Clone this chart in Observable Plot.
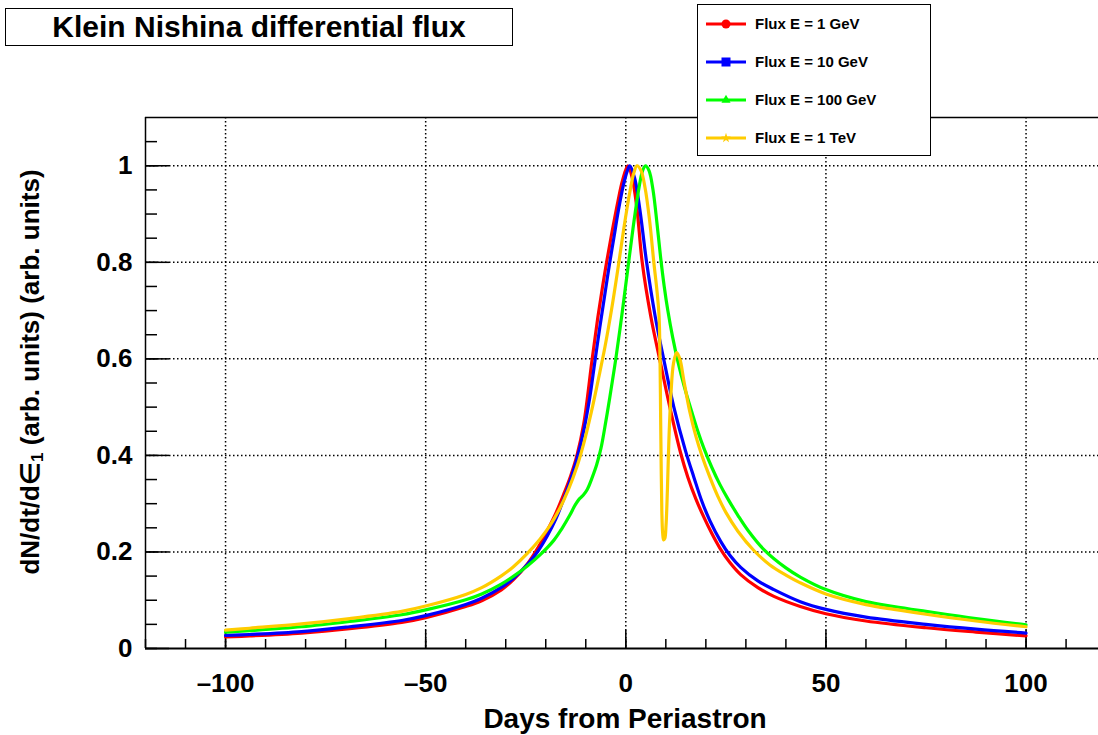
<!DOCTYPE html>
<html>
<head>
<meta charset="utf-8">
<script src="https://cdn.jsdelivr.net/npm/d3@7"></script>
<script src="https://cdn.jsdelivr.net/npm/@observablehq/plot@0.6"></script>
<style>
  html, body { margin: 0; padding: 0; background: #fff; overflow: hidden; }
  #wrap { position: relative; width: 1098px; height: 735px; font-family: "Liberation Sans", Arial, Helvetica, sans-serif; font-weight: bold; color: #000; }
  #chart { position: absolute; left: 0; top: 0; }
  #title { position: absolute; left: 5px; top: 8px; width: 508px; height: 38px; box-sizing: border-box; border: 1.5px solid #000; background: #fff; font-size: 30px; text-align: center; line-height: 35px; white-space: nowrap; }
  #legend { position: absolute; left: 697px; top: 4px; width: 234px; height: 152px; box-sizing: border-box; border: 1.5px solid #000; background: #fff; }
  .lrow { position: absolute; left: 7px; height: 20px; display: flex; align-items: center; }
  .lrow svg { display: block; }
  .lrow span { margin-left: 8px; font-size: 15px; line-height: 20px; white-space: nowrap; }
  #ylab { position: absolute; left: -220px; top: 357px; width: 500px; height: 30px; line-height: 30px; text-align: center; font-size: 26px; transform: rotate(-90deg); white-space: nowrap; }
  #ylab sub { font-size: 17px; vertical-align: -4px; }
</style>
</head>
<body>
<div id="wrap">
  <div id="chart"></div>
  <div id="title"></div>
  <div id="legend"></div>
  <div id="ylab">dN/dt/d&#8712;<sub>1</sub> (arb. units) (arb. units)</div>
</div>
<script>
// ---------------- data ----------------
const chartTitle = "Klein Nishina differential flux";
const xTitle = "Days from Periastron";
const seriesNames = ["Flux E = 1 GeV", "Flux E = 10 GeV", "Flux E = 100 GeV", "Flux E = 1 TeV"];

const xMajorTicks = [-100, -50, 0, 50, 100];
const yMajorTicks = [0, 0.2, 0.4, 0.6, 0.8, 1];

const days1GeV = [-100,-94,-81,-69,-56,-50,-40,-36,-31,-28,-24.6,-22,-19.7,-17.5,-15.5,-13.8,-12.2,-10.5,-8.4,-7,-5.8,-4.8,-3.5,-2,-0.8,0.5,1.6,2.8,4.1,6.2,8.7,11,13.7,15.5,17.5,19.5,21.5,23.5,26,28.7,33,37,43.6,50,60,75,87.5,100];
const flux1GeV = [0.024,0.026,0.032,0.041,0.054,0.064,0.087,0.099,0.122,0.143,0.175,0.208,0.243,0.28,0.32,0.357,0.40,0.466,0.6,0.685,0.75,0.8,0.86,0.925,0.97,1.0,0.975,0.91,0.8,0.69,0.59,0.5,0.405,0.355,0.31,0.272,0.238,0.208,0.178,0.153,0.126,0.108,0.087,0.072,0.057,0.043,0.034,0.026];

const days10GeV = [-100,-94,-81,-69,-56,-50,-40,-36,-31,-28,-24.6,-22,-19.7,-17.5,-15.5,-13.8,-12.2,-10.5,-9,-7.8,-6.5,-5.3,-4.2,-3,-1.8,-0.6,0.4,1,2.2,3.5,5.2,7.3,9.7,12,14.9,17,19,21,23.7,26,28.7,33,37,43.6,50,60,75,87.5,100];
const flux10GeV = [0.027,0.029,0.035,0.045,0.058,0.068,0.091,0.104,0.127,0.146,0.174,0.201,0.232,0.268,0.31,0.35,0.393,0.452,0.52,0.59,0.665,0.73,0.79,0.85,0.91,0.96,0.99,1.0,0.975,0.91,0.8,0.69,0.59,0.5,0.41,0.355,0.305,0.265,0.222,0.193,0.168,0.14,0.122,0.097,0.081,0.065,0.05,0.04,0.032];

const days100GeV = [-100,-94,-81,-69,-56,-50,-40,-36,-31,-28,-24.6,-21.3,-18,-16,-14,-12.6,-11.6,-10.6,-9.6,-8.5,-7.3,-6.2,-5,-4,-2.5,-1,0.4,1.8,3.2,4.2,4.9,5.8,6.8,7.8,8.7,9.6,10.5,11.7,13,14.7,16.5,18,19.5,21.5,23.5,25.5,28,30.5,34.5,40,43.6,50,60,67,75,87.5,100];
const flux100GeV = [0.034,0.037,0.045,0.056,0.07,0.08,0.101,0.113,0.134,0.15,0.171,0.195,0.224,0.248,0.276,0.298,0.31,0.318,0.33,0.352,0.38,0.415,0.47,0.52,0.6,0.69,0.78,0.87,0.95,0.99,1.0,0.99,0.95,0.88,0.81,0.75,0.7,0.645,0.595,0.54,0.49,0.45,0.415,0.375,0.34,0.31,0.276,0.245,0.205,0.167,0.148,0.122,0.097,0.087,0.077,0.062,0.049];

const days1TeV = [-100,-94,-81,-69,-56,-50,-40,-36,-31,-28,-24.6,-21.5,-19,-16.5,-14.3,-12.2,-10.5,-8.6,-6.8,-5.2,-3.6,-2,-0.5,1,2,2.8,3.8,4.8,5.9,7,7.8,8.3,8.55,8.7,8.85,9.0,9.2,9.45,9.75,10.05,10.4,10.8,11.3,11.9,12.7,13.5,14.5,16,17.5,19,21,23,25,28,32,36,40,43.6,50,60,67,75,87.5,100];
const flux1TeV = [0.038,0.042,0.051,0.062,0.077,0.088,0.112,0.126,0.151,0.17,0.197,0.226,0.254,0.29,0.33,0.377,0.425,0.49,0.56,0.625,0.7,0.785,0.87,0.945,0.985,1.0,0.99,0.955,0.89,0.8,0.74,0.69,0.6,0.48,0.37,0.285,0.24,0.225,0.228,0.255,0.33,0.44,0.53,0.59,0.613,0.6,0.555,0.49,0.44,0.4,0.355,0.315,0.282,0.243,0.203,0.173,0.152,0.136,0.113,0.091,0.081,0.071,0.057,0.045];

// ---------------- build table ----------------
const seriesDays = [days1GeV, days10GeV, days100GeV, days1TeV];
const seriesFlux = [flux1GeV, flux10GeV, flux100GeV, flux1TeV];
const rows = [];
seriesNames.forEach((name, i) => {
  seriesDays[i].forEach((d, j) => rows.push({series: name, day: d, flux: seriesFlux[i][j]}));
});

// ---------------- styles / layout ----------------
const colors = ["#ff0000", "#0000ff", "#00ff00", "#ffcc00"];
const W = 1098, H = 735, mt = 117, mb = 87, ml = 145, mr = 0;
const frameW = W - ml - mr, frameH = H - mt - mb;
const xDomain = [-120, 118.1];
const yDomain = [0, 1.1];
const xMinorTicks = d3.range(-120, 111, 10);
const yMinorTicks = d3.range(0, 22).map(i => i * 0.05);
const dash = {stroke: "black", strokeOpacity: 1, strokeWidth: 1.5, strokeDasharray: "1.5,2.5"};
const fmtX = d => d < 0 ? "\u2013" + Math.abs(d) : String(d);

const plot = Plot.plot({
  width: W, height: H,
  marginTop: mt, marginBottom: mb, marginLeft: ml, marginRight: mr,
  style: {fontFamily: '"Liberation Sans", Arial, Helvetica, sans-serif', fontWeight: "bold", fontSize: "26px", background: "white", color: "black"},
  x: {domain: xDomain},
  y: {domain: yDomain},
  color: {domain: seriesNames, range: colors},
  marks: [
    Plot.gridX(xMajorTicks, dash),
    Plot.gridY(yMajorTicks.filter(d => d > 0), dash),
    Plot.tickX(xMinorTicks, {x: d => d, stroke: "black", strokeWidth: 1.5, insetTop: frameH - 9}),
    Plot.tickX(xMajorTicks, {x: d => d, stroke: "black", strokeWidth: 1.5, insetTop: frameH - 18}),
    Plot.tickY(yMinorTicks, {y: d => d, stroke: "black", strokeWidth: 1.5, insetRight: frameW - 12}),
    Plot.tickY(yMajorTicks, {y: d => d, stroke: "black", strokeWidth: 1.5, insetRight: frameW - 24}),
    Plot.line(rows, {x: "day", y: "flux", z: "series", stroke: "series", strokeWidth: 3.2, curve: "catmull-rom"}),
    Plot.ruleX([xDomain[0]], {stroke: "black", strokeWidth: 1.5}),
    Plot.ruleY([yDomain[1]], {stroke: "black", strokeWidth: 1.5}),
    Plot.ruleY([0], {stroke: "black", strokeWidth: 2}),
    Plot.axisX(xMajorTicks, {tickSize: 0, tickPadding: 25, tickFormat: fmtX, label: null, fontSize: 26}),
    Plot.axisY(yMajorTicks, {tickSize: 0, tickPadding: 13, tickFormat: d => String(d), label: null, fontSize: 26}),
    Plot.text([xTitle], {frameAnchor: "bottom", dy: 71, dx: 3, text: d => d, fontSize: 28, lineAnchor: "middle"})
  ]
});
document.getElementById("chart").appendChild(plot);

// ---------------- title ----------------
document.getElementById("title").textContent = chartTitle;

// ---------------- legend ----------------
const legend = d3.select("#legend");
const rowCenters = [19, 57, 95, 133];
const shapes = ["circle", "square", "triangle", "star"];
seriesNames.forEach((name, i) => {
  const row = legend.append("div").attr("class", "lrow").style("top", (rowCenters[i] - 10) + "px");
  const svg = row.append("svg").attr("width", 42).attr("height", 20);
  svg.append("line").attr("x1", 1).attr("x2", 41).attr("y1", 10).attr("y2", 10)
    .attr("stroke", colors[i]).attr("stroke-width", 3);
  const cx = 21, cy = 10;
  if (shapes[i] === "circle") svg.append("circle").attr("cx", cx).attr("cy", cy).attr("r", 4.5).attr("fill", colors[i]);
  if (shapes[i] === "square") svg.append("rect").attr("x", cx - 4.5).attr("y", cy - 4.5).attr("width", 9).attr("height", 9).attr("fill", colors[i]);
  if (shapes[i] === "triangle") svg.append("path").attr("d", d3.symbol(d3.symbolTriangle, 36)()).attr("transform", `translate(${cx},${cy})`).attr("fill", colors[i]);
  if (shapes[i] === "star") svg.append("path").attr("d", d3.symbol(d3.symbolStar, 30)()).attr("transform", `translate(${cx},${cy})`).attr("fill", colors[i]);
  row.append("span").text(name);
});
</script>
</body>
</html>
